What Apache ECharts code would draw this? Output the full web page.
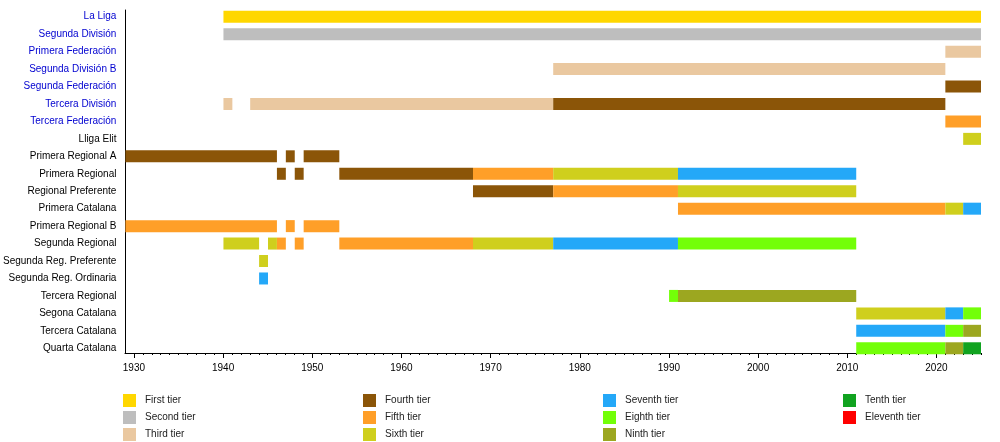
<!DOCTYPE html>
<html>
<head>
<meta charset="UTF-8">
<title>League timeline</title>
<style>
  html, body { margin: 0; padding: 0; background: #fff; }
  #chart { width: 1000px; height: 442px; }
</style>
</head>
<body>
<div id="chart"></div>
<script src="https://cdn.jsdelivr.net/npm/echarts@6/dist/echarts.min.js"></script>
<script>
// rows, top to bottom
var leagues = ['La Liga', 'Segunda División', 'Primera Federación', 'Segunda División B',
  'Segunda Federación', 'Tercera División', 'Tercera Federación', 'Lliga Elit',
  'Primera Regional A', 'Primera Regional', 'Regional Preferente', 'Primera Catalana',
  'Primera Regional B', 'Segunda Regional', 'Segunda Reg. Preferente', 'Segunda Reg. Ordinaria',
  'Tercera Regional', 'Segona Catalana', 'Tercera Catalana', 'Quarta Catalana'];
// national leagues are shown as links
var linked = ['La Liga', 'Segunda División', 'Primera Federación', 'Segunda División B',
  'Segunda Federación', 'Tercera División', 'Tercera Federación'];

var tiers = ['First tier', 'Second tier', 'Third tier', 'Fourth tier', 'Fifth tier', 'Sixth tier',
  'Seventh tier', 'Eighth tier', 'Ninth tier', 'Tenth tier', 'Eleventh tier'];
var tierColors = ['#ffd700', '#bebebe', '#eac8a0', '#8b5508', '#ff9f28', '#cfcf1d',
  '#24a8f8', '#73ff08', '#9ca720', '#11a320', '#ff0000'];

// [league, from, to] per tier
var first = [['La Liga', 1940, 2025]];
var second = [['Segunda División', 1940, 2025]];
var third = [['Primera Federación', 2021, 2025], ['Segunda División B', 1977, 2021],
  ['Tercera División', 1940, 1941], ['Tercera División', 1943, 1977]];
var fourth = [['Segunda Federación', 2021, 2025], ['Tercera División', 1977, 2021],
  ['Primera Regional A', 1929, 1946], ['Primera Regional A', 1947, 1948], ['Primera Regional A', 1949, 1953],
  ['Primera Regional', 1946, 1947], ['Primera Regional', 1948, 1949], ['Primera Regional', 1953, 1968],
  ['Regional Preferente', 1968, 1977]];
var fifth = [['Tercera Federación', 2021, 2025], ['Primera Regional', 1968, 1977],
  ['Regional Preferente', 1977, 1991], ['Primera Catalana', 1991, 2021],
  ['Primera Regional B', 1929, 1946], ['Primera Regional B', 1947, 1948], ['Primera Regional B', 1949, 1953],
  ['Segunda Regional', 1946, 1947], ['Segunda Regional', 1948, 1949], ['Segunda Regional', 1953, 1968]];
var sixth = [['Lliga Elit', 2023, 2025], ['Primera Regional', 1977, 1991],
  ['Regional Preferente', 1991, 2011], ['Primera Catalana', 2021, 2023],
  ['Segunda Regional', 1940, 1944], ['Segunda Regional', 1945, 1946], ['Segunda Regional', 1968, 1977],
  ['Segunda Reg. Preferente', 1944, 1945], ['Segona Catalana', 2011, 2021]];
var seventh = [['Primera Regional', 1991, 2011], ['Primera Catalana', 2023, 2025],
  ['Segunda Regional', 1977, 1991], ['Segunda Reg. Ordinaria', 1944, 1945],
  ['Segona Catalana', 2021, 2023], ['Tercera Catalana', 2011, 2021]];
var eighth = [['Segunda Regional', 1991, 2011], ['Tercera Regional', 1990, 1991],
  ['Segona Catalana', 2023, 2025], ['Tercera Catalana', 2021, 2023], ['Quarta Catalana', 2011, 2021]];
var ninth = [['Tercera Regional', 1991, 2011], ['Tercera Catalana', 2023, 2025],
  ['Quarta Catalana', 2021, 2023]];
var tenth = [['Quarta Catalana', 2023, 2025]];
var eleventh = [];
var spans = [first, second, third, fourth, fifth, sixth, seventh, eighth, ninth, tenth, eleventh];

var majorYears = [1930, 1940, 1950, 1960, 1970, 1980, 1990, 2000, 2010, 2020];
var minorYears = [];
for (var y = 1930; y <= 2025; y++) minorYears.push(y);

var font = 'Liberation Sans, Arial, sans-serif';

function renderSpan(params, api) {
  var row = api.value(0);
  var a = api.coord([api.value(1), row]);
  var b = api.coord([api.value(2), row]);
  var h = 12;
  return {
    type: 'rect',
    shape: { x: a[0], y: a[1] - h / 2, width: b[0] - a[0], height: h },
    style: { fill: api.visual('color') }
  };
}

var series = tiers.map(function (name, i) {
  return {
    name: name,
    type: 'custom',
    xAxisIndex: 2,
    yAxisIndex: 0,
    renderItem: renderSpan,
    itemStyle: { color: tierColors[i] },
    encode: { x: [1, 2], y: 0 },
    silent: true,
    data: spans[i].map(function (s) { return [leagues.indexOf(s[0]), s[1], s[2]]; })
  };
});

var legendCols = [[0, 1, 2], [3, 4, 5], [6, 7, 8], [9, 10]];
var legendLeft = [123, 363, 603, 843];
var legends = legendCols.map(function (col, k) {
  return {
    orient: 'vertical',
    left: legendLeft[k],
    top: 394,
    padding: 0,
    itemWidth: 13,
    itemHeight: 13,
    itemGap: 4,
    icon: 'rect',
    selectedMode: false,
    textStyle: { fontFamily: font, fontSize: 10, color: '#222', padding: [0, 0, 0, 4] },
    data: col.map(function (i) { return tiers[i]; })
  };
});

var chart = echarts.init(document.getElementById('chart'));
chart.setOption({
  animation: false,
  backgroundColor: '#fff',
  legend: legends,
  grid: [
    { left: 125, right: 19, top: 8, height: 349 },
    { left: 125, right: 19, top: 10, bottom: 89 }
  ],
  xAxis: [
    {
      type: 'value', gridIndex: 1, min: 1929, max: 2025, position: 'bottom',
      axisLine: { show: true, lineStyle: { color: '#000', width: 1 } },
      axisTick: { show: true, customValues: majorYears, length: 5, lineStyle: { color: '#000' } },
      axisLabel: {
        customValues: majorYears, margin: 10, color: '#000', fontFamily: font, fontSize: 10,
        formatter: function (v) { return String(v); }
      },
      splitLine: { show: false }
    },
    {
      type: 'value', gridIndex: 1, min: 1929, max: 2025, position: 'bottom',
      axisLine: { show: false },
      axisTick: { show: true, customValues: minorYears, length: 2, lineStyle: { color: '#000' } },
      axisLabel: { show: false },
      splitLine: { show: false }
    },
    {
      type: 'value', gridIndex: 0, min: 1929, max: 2025, show: false
    }
  ],
  yAxis: [
    {
      type: 'category', gridIndex: 0, inverse: true,
      data: leagues.map(function (n) {
        return { value: n, textStyle: { color: linked.indexOf(n) >= 0 ? '#0000d0' : '#000' } };
      }),
      axisLine: { show: false },
      axisTick: { show: false },
      axisLabel: { margin: 9, fontFamily: font, fontSize: 10, interval: 0 },
      splitLine: { show: false }
    },
    {
      type: 'value', gridIndex: 1, min: 0, max: 1,
      axisLine: { show: true, lineStyle: { color: '#000', width: 1 } },
      axisTick: { show: false },
      axisLabel: { show: false },
      splitLine: { show: false }
    }
  ],
  series: series
});
</script>
</body>
</html>
